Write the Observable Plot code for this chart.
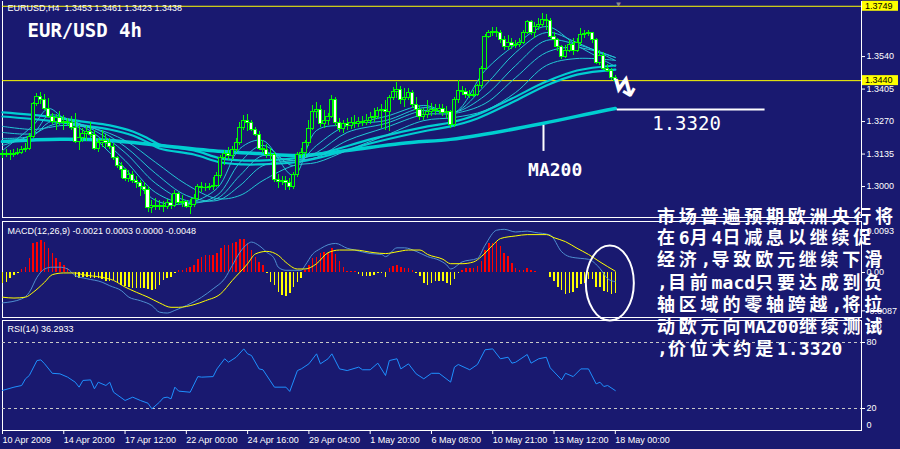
<!DOCTYPE html>
<html><head><meta charset="utf-8">
<script src="https://cdn.jsdelivr.net/npm/d3@7"></script>
<script src="https://cdn.jsdelivr.net/npm/@observablehq/plot@0.6"></script>
<style>
html,body{margin:0;padding:0;background:#191970;overflow:hidden}
#wrap{position:relative;width:900px;height:449px;background:#191970;overflow:hidden}
.panel{position:absolute;left:0}
.panel svg{display:block;overflow:visible}
#note{position:absolute;left:657px;top:205px;color:#fff;font-family:"Noto Sans CJK SC";font-weight:bold;font-size:18px;line-height:21.2px;letter-spacing:3.8px;white-space:nowrap;z-index:5}
#note .l{font-family:"DejaVu Sans Mono";letter-spacing:0.1px}
</style></head>
<body><div id="wrap">
<div class="panel" id="p1" style="top:0"></div>
<div class="panel" id="p2" style="top:220px"></div>
<div class="panel" id="p3" style="top:319px"></div>
<div id="note">市场普遍预期欧洲央行将<br>在<span class="l">6</span>月<span class="l">4</span>日减息以继续促<br>经济<span class="l">,</span>导致欧元继续下滑<br><span class="l">,</span>目前<span class="l">macd</span>只要达成到负<br>轴区域的零轴跨越<span class="l">,</span>将拉<br>动欧元向<span class="l">MA200</span>继续测试<br><span class="l">,</span>价位大约是<span class="l">1.3320</span></div>
</div>
<script>
// ---------- DATA ----------
const timeLabels = ["10 Apr 2009","14 Apr 20:00","17 Apr 12:00","22 Apr 00:00","24 Apr 16:00","29 Apr 04:00","1 May 20:00","6 May 08:00","10 May 21:00","13 May 12:00","18 May 00:00"];
const timeTickIdx = [0,16,32,48,64,80,96,112,128,144,160];

const open = [1.3137,1.3129,1.3137,1.3129,1.3137,1.3141,1.3150,1.3154,1.3204,1.3345,
1.3370,1.3358,1.3324,1.3291,1.3270,1.3283,1.3266,1.3270,1.3262,1.3245,
1.3187,1.3200,1.3220,1.3225,1.3216,1.3158,1.3179,1.3191,1.3179,1.3166,
1.3117,1.3087,1.3067,1.3033,1.3046,1.3025,1.3013,1.3000,1.2984,1.2909,
1.2921,1.2913,1.2921,1.2913,1.2930,1.2921,1.2967,1.2930,1.2934,1.2917,
1.2925,1.2950,1.3000,1.2992,1.2996,1.3000,1.3004,1.3042,1.3117,1.3137,
1.3125,1.3150,1.3179,1.3245,1.3274,1.3266,1.3237,1.3216,1.3158,1.3150,
1.3133,1.3129,1.3029,1.3017,1.3025,1.3013,1.3000,1.3046,1.3129,1.3141,
1.3179,1.3241,1.3308,1.3316,1.3258,1.3274,1.3287,1.3358,1.3262,1.3241,
1.3258,1.3250,1.3266,1.3258,1.3270,1.3266,1.3274,1.3283,1.3287,1.3312,
1.3316,1.3308,1.3366,1.3391,1.3403,1.3358,1.3366,1.3387,1.3337,1.3316,
1.3287,1.3299,1.3308,1.3316,1.3312,1.3324,1.3304,1.3308,1.3254,1.3358,
1.3399,1.3391,1.3382,1.3378,1.3382,1.3416,1.3490,1.3623,1.3636,1.3644,
1.3636,1.3607,1.3578,1.3598,1.3582,1.3590,1.3598,1.3640,1.3682,1.3640,
1.3661,1.3673,1.3694,1.3686,1.3623,1.3607,1.3578,1.3540,1.3565,1.3590,
1.3565,1.3598,1.3628,1.3632,1.3636,1.3607,1.3515,1.3544,1.3490,1.3482,
1.3453];
const high = [1.3150,1.3154,1.3150,1.3154,1.3158,1.3166,1.3179,1.3220,1.3349,1.3387,
1.3391,1.3382,1.3366,1.3304,1.3299,1.3312,1.3295,1.3283,1.3291,1.3304,
1.3254,1.3241,1.3250,1.3266,1.3233,1.3200,1.3233,1.3216,1.3200,1.3179,
1.3125,1.3100,1.3075,1.3067,1.3063,1.3042,1.3025,1.3017,1.3000,1.2942,
1.2950,1.2942,1.2938,1.2946,1.2963,1.2984,1.2975,1.2963,1.2942,1.2946,
1.2967,1.3009,1.3017,1.3013,1.3013,1.3038,1.3058,1.3129,1.3150,1.3162,
1.3166,1.3200,1.3266,1.3295,1.3299,1.3274,1.3245,1.3229,1.3191,1.3175,
1.3158,1.3141,1.3050,1.3042,1.3042,1.3033,1.3058,1.3141,1.3158,1.3191,
1.3274,1.3337,1.3349,1.3337,1.3316,1.3304,1.3378,1.3370,1.3283,1.3274,
1.3283,1.3287,1.3295,1.3287,1.3291,1.3299,1.3308,1.3324,1.3328,1.3341,
1.3358,1.3378,1.3412,1.3432,1.3416,1.3407,1.3407,1.3399,1.3370,1.3337,
1.3324,1.3358,1.3345,1.3341,1.3341,1.3341,1.3333,1.3316,1.3370,1.3441,
1.3416,1.3407,1.3399,1.3399,1.3424,1.3499,1.3632,1.3648,1.3661,1.3661,
1.3648,1.3623,1.3628,1.3615,1.3607,1.3615,1.3648,1.3690,1.3690,1.3682,
1.3698,1.3719,1.3715,1.3698,1.3640,1.3615,1.3586,1.3586,1.3607,1.3615,
1.3615,1.3657,1.3648,1.3648,1.3640,1.3615,1.3565,1.3557,1.3507,1.3490,
1.3461];
const low = [1.3117,1.3121,1.3108,1.3121,1.3129,1.3133,1.3141,1.3150,1.3200,1.3333,
1.3341,1.3316,1.3283,1.3258,1.3233,1.3254,1.3233,1.3250,1.3233,1.3179,
1.3150,1.3183,1.3187,1.3200,1.3150,1.3141,1.3162,1.3158,1.3154,1.3108,
1.3075,1.3033,1.3021,1.3017,1.3013,1.2992,1.2959,1.2967,1.2892,1.2888,
1.2900,1.2900,1.2892,1.2905,1.2905,1.2913,1.2921,1.2913,1.2909,1.2884,
1.2913,1.2942,1.2975,1.2979,1.2984,1.2984,1.2996,1.3033,1.3087,1.3108,
1.3108,1.3141,1.3171,1.3233,1.3229,1.3229,1.3208,1.3150,1.3137,1.3117,
1.3108,1.3017,1.2992,1.3004,1.2984,1.2984,1.2988,1.3038,1.3117,1.3121,
1.3166,1.3233,1.3283,1.3245,1.3241,1.3254,1.3283,1.3250,1.3225,1.3220,
1.3233,1.3237,1.3241,1.3245,1.3250,1.3254,1.3258,1.3266,1.3279,1.3241,
1.3233,1.3229,1.3358,1.3366,1.3341,1.3328,1.3358,1.3324,1.3291,1.3274,
1.3274,1.3283,1.3291,1.3295,1.3299,1.3291,1.3283,1.3241,1.3245,1.3345,
1.3378,1.3366,1.3366,1.3370,1.3374,1.3407,1.3482,1.3615,1.3623,1.3619,
1.3594,1.3565,1.3565,1.3569,1.3574,1.3578,1.3590,1.3632,1.3628,1.3615,
1.3648,1.3661,1.3648,1.3615,1.3578,1.3561,1.3528,1.3532,1.3557,1.3544,
1.3557,1.3586,1.3615,1.3623,1.3594,1.3507,1.3503,1.3482,1.3474,1.3441,
1.3423];
const close = [1.3129,1.3137,1.3129,1.3137,1.3141,1.3150,1.3154,1.3204,1.3345,1.3370,
1.3358,1.3324,1.3291,1.3270,1.3283,1.3266,1.3270,1.3262,1.3245,1.3187,
1.3200,1.3220,1.3225,1.3216,1.3158,1.3179,1.3191,1.3179,1.3166,1.3117,
1.3087,1.3067,1.3033,1.3046,1.3025,1.3013,1.3000,1.2984,1.2909,1.2921,
1.2913,1.2921,1.2913,1.2930,1.2921,1.2967,1.2930,1.2934,1.2917,1.2925,
1.2950,1.3000,1.2992,1.2996,1.3000,1.3004,1.3042,1.3117,1.3137,1.3125,
1.3150,1.3179,1.3245,1.3274,1.3266,1.3237,1.3216,1.3158,1.3150,1.3133,
1.3129,1.3029,1.3017,1.3025,1.3013,1.3000,1.3046,1.3129,1.3141,1.3179,
1.3241,1.3308,1.3316,1.3258,1.3274,1.3287,1.3358,1.3262,1.3241,1.3258,
1.3250,1.3266,1.3258,1.3270,1.3266,1.3274,1.3283,1.3287,1.3312,1.3316,
1.3308,1.3366,1.3391,1.3403,1.3358,1.3366,1.3387,1.3337,1.3316,1.3287,
1.3299,1.3308,1.3316,1.3312,1.3324,1.3304,1.3308,1.3254,1.3358,1.3399,
1.3391,1.3382,1.3378,1.3382,1.3416,1.3490,1.3623,1.3636,1.3644,1.3636,
1.3607,1.3578,1.3598,1.3582,1.3590,1.3598,1.3640,1.3682,1.3640,1.3661,
1.3673,1.3694,1.3686,1.3623,1.3607,1.3578,1.3540,1.3565,1.3590,1.3565,
1.3598,1.3628,1.3632,1.3636,1.3607,1.3515,1.3544,1.3490,1.3482,1.3453,
1.3438];

// moving averages (sampled at bar indices)
const ribbonIdx = [0,8,12,16,24,32,40,48,56,62,68,76,82,90,100,110,118,126,134,142,150,160];
const ma_r1 = [1.3150,1.3254,1.3324,1.3283,1.3200,1.3075,1.2942,1.2930,1.2992,1.3158,1.3191,1.3046,1.3233,1.3258,1.3291,1.3337,1.3308,1.3482,1.3590,1.3665,1.3586,1.3499];
const ma_r2 = [1.3171,1.3220,1.3295,1.3287,1.3220,1.3108,1.2975,1.2930,1.2963,1.3100,1.3171,1.3087,1.3171,1.3254,1.3274,1.3328,1.3308,1.3420,1.3557,1.3640,1.3598,1.3524];
const ma_r3 = [1.3200,1.3212,1.3266,1.3279,1.3233,1.3141,1.3013,1.2942,1.2950,1.3046,1.3129,1.3108,1.3141,1.3225,1.3262,1.3316,1.3308,1.3378,1.3503,1.3607,1.3590,1.3536];
const ma_r4 = [1.3225,1.3220,1.3250,1.3266,1.3241,1.3166,1.3054,1.2963,1.2942,1.3004,1.3087,1.3108,1.3121,1.3191,1.3245,1.3299,1.3304,1.3345,1.3453,1.3557,1.3578,1.3536];
const ma_r5 = [1.3250,1.3237,1.3245,1.3254,1.3241,1.3191,1.3100,1.3009,1.2950,1.2963,1.3025,1.3087,1.3100,1.3150,1.3212,1.3274,1.3287,1.3316,1.3391,1.3503,1.3532,1.3524];
const bundleIdx = [0,12,21,28,34,38,41,50,57,63,67,76,83,97,111,117,124,133,142,150,160];
const ma_bundleA = [1.3308,1.3291,1.3270,1.3254,1.3229,1.3200,1.3175,1.3150,1.3117,1.3108,1.3108,1.3117,1.3137,1.3200,1.3250,1.3266,1.3299,1.3366,1.3436,1.3482,1.3503];
const ma_bundleB = [1.3291,1.3274,1.3254,1.3237,1.3212,1.3183,1.3158,1.3133,1.3100,1.3092,1.3092,1.3100,1.3121,1.3183,1.3233,1.3250,1.3283,1.3349,1.3420,1.3465,1.3486];
const ma200Idx = [0,15,28,41,54,67,78,90,104,117,124,141,156,160];
const ma200 = [1.3187,1.3196,1.3191,1.3171,1.3150,1.3137,1.3129,1.3150,1.3179,1.3196,1.3212,1.3262,1.3312,1.3324];

// MACD
const histo = [-0.0026,-0.0022,-0.0014,-0.0007,-0.0003,0.0006,0.0012,0.0031,0.0065,0.0069,
0.0073,0.0069,0.0054,0.0042,0.0031,0.0023,0.0016,0.0008,-0.0001,-0.0011,
-0.0014,-0.0011,-0.0011,-0.0013,-0.0014,-0.0014,-0.0016,-0.0020,-0.0020,-0.0018,
-0.0026,-0.0030,-0.0032,-0.0033,-0.0037,-0.0037,-0.0037,-0.0037,-0.0039,-0.0041,
-0.0039,-0.0030,-0.0018,-0.0014,-0.0011,-0.0003,0.0005,0.0005,0.0008,0.0012,
0.0017,0.0030,0.0035,0.0039,0.0039,0.0039,0.0042,0.0054,0.0061,0.0061,
0.0065,0.0069,0.0076,0.0076,0.0065,0.0050,0.0035,0.0023,0.0017,-0.0003,
-0.0022,-0.0030,-0.0045,-0.0052,-0.0055,-0.0048,-0.0033,-0.0022,-0.0013,0.0005,
0.0016,0.0031,0.0035,0.0042,0.0046,0.0042,0.0055,0.0041,0.0024,0.0011,
0.0003,0.0002,0.0002,-0.0005,-0.0008,-0.0010,-0.0010,-0.0006,-0.0002,-0.0003,
-0.0012,0.0008,0.0013,0.0017,0.0011,0.0008,0.0009,0.0005,-0.0002,-0.0010,
-0.0025,-0.0029,-0.0025,-0.0021,-0.0021,-0.0021,-0.0025,-0.0029,-0.0017,-0.0002,
0.0005,0.0009,0.0009,0.0009,0.0013,0.0024,0.0051,0.0066,0.0066,0.0070,
0.0058,0.0043,0.0036,0.0020,0.0009,0.0005,0.0005,0.0009,0.0005,0.0002,
0,0,0,-0.0012,-0.0021,-0.0033,-0.0040,-0.0050,-0.0048,-0.0045,
-0.0036,-0.0027,-0.0025,-0.0017,-0.0017,-0.0033,-0.0033,-0.0044,-0.0045,-0.0050,
-0.0048];
const macdIdx = [0,5,7,9,11,13,15,17,19,22,26,28,31,33,36,39,41,43,45,48,52,55,58,60,62,64,65,67,69,71,72,74,78,79,81,83,85,87,90,92,96,99,100,103,105,108,111,114,116,117,120,124,126,129,131,134,137,139,143,146,148,151,153,156,158,160];
const macdVal = [-0.0069,-0.0060,-0.0045,-0.0011,0.0008,0.0012,0.0012,0.0008,-0.0007,-0.0014,-0.0022,-0.0030,-0.0041,-0.0056,-0.0064,-0.0075,-0.0090,-0.0092,-0.0086,-0.0075,-0.0056,-0.0037,-0.0014,0.0016,0.0046,0.0065,0.0069,0.0061,0.0046,0.0031,0.0012,0.0005,0.0005,0.0016,0.0042,0.0054,0.0063,0.0066,0.0055,0.0051,0.0043,0.0041,0.0036,0.0056,0.0056,0.0048,0.0036,0.0028,0.0017,0.0008,0.0024,0.0032,0.0062,0.0096,0.0098,0.0092,0.0094,0.0091,0.0085,0.0047,0.0036,0.0032,0.0030,0.0009,-0.0014,-0.0021];
const signalIdx = [0,3,6,8,11,13,16,19,21,26,29,32,35,38,41,44,46,50,53,57,60,64,66,69,72,74,77,79,82,85,88,92,97,100,103,106,109,111,115,117,120,123,125,128,130,134,137,142,144,147,150,153,156,160];
const signalVal = [-0.0056,-0.0058,-0.0056,-0.0045,-0.0022,-0.0005,-0.0001,-0.0001,-0.0005,-0.0011,-0.0018,-0.0033,-0.0045,-0.0056,-0.0069,-0.0079,-0.0079,-0.0073,-0.0064,-0.0048,-0.0018,0.0020,0.0042,0.0048,0.0039,0.0023,0.0008,0.0008,0.0020,0.0045,0.0051,0.0051,0.0045,0.0043,0.0047,0.0051,0.0051,0.0041,0.0030,0.0020,0.0020,0.0024,0.0036,0.0062,0.0077,0.0083,0.0086,0.0086,0.0079,0.0070,0.0055,0.0041,0.0024,0.0003];

// RSI
const rsiIdx = [0,3,5,6,7,9,10,11,13,15,17,19,20,21,23,24,25,27,28,29,32,34,36,38,39,41,42,43,44,45,46,49,51,52,55,56,58,59,61,63,64,65,67,68,71,74,75,77,78,80,82,83,85,86,88,90,93,94,96,98,100,101,103,104,106,108,110,112,114,117,118,119,122,124,126,128,130,132,133,134,137,138,140,142,143,146,147,149,151,153,155,156,157,158,160];
const rsiVal = [36.4,39.4,40.9,47,50,63.6,64.2,60.6,52,51.5,48.5,43.9,39.4,45.5,46,37.9,43.9,40.9,43.9,34.8,27.3,30.3,27.3,24.8,19.7,25.8,29.7,30.3,28.8,39.4,35.8,34.8,49,48.5,49,56,65.2,62.1,66.6,74.2,69.7,68.2,56,55.2,39.4,39.4,35.5,54.5,56,60.6,69.7,60.6,65.2,69.7,56,54.5,57.6,55.2,55.2,61.2,50,63.6,65.2,56,60.6,51.5,47,52,52,44,57.6,60,55.2,60,73.4,74.2,65.2,66.6,61.2,62.1,69.1,61.2,65.2,66.6,57,46,52,49,56,56,42.4,43.9,40,40.9,36.3];

// scales / labels
const priceTicks = [1.3540,1.3405,1.3270,1.3135,1.3000];
const priceLevels = [1.3749,1.3440];
const macdTicks = [0.0093,0,-0.0087];
const rsiLevels = [80,20];
const target = 1.3320;
const priceHeader = "EURUSD,H4  1.3453 1.3461 1.3423 1.3438";
const macdHeader = "MACD(12,26,9) -0.0021 0.0003 0.0000 -0.0048";
const rsiHeader = "RSI(14) 36.2933";
const chartTitle = "EUR/USD 4h";

// annotation anchors (bar index / price)
const targetSpan = [160.5, 199.1], targetLabelIdx = 178.6;
const ma200Note = {i: 141.25, top: 1.3254, bottom: 1.3146, labelIdx: 144.3, labelY: 1.3069};
const arrowNote = {i: 162.6, y: 1.3408};
const ovalNote = {i: 158.7, v: -0.0025};

// ---------- BUILD ----------
const NAVY = "#191970", CYAN = "#00ced1", CYAN2 = "#22c8d4", GREEN = "#00ff00";
const XDOM = [0, 224.28];
const bars = close.map((c, i) => ({i, o: open[i], h: high[i], l: low[i], c}));
const ser = (idx, vals) => idx.map((i, k) => ({i, v: vals[k]}));
const base = {background: "transparent", color: "#fff", fontFamily: "Liberation Sans", fontSize: "9px", overflow: "visible"};
const labelMap = new Map(timeTickIdx.map((t, k) => [t, timeLabels[k]]));

const maLine = (idx, vals, w, col) => Plot.line(ser(idx, vals), {x: "i", y: "v", stroke: col, strokeWidth: w, curve: "catmull-rom"});

const p1 = Plot.plot({
  width: 900, height: 218, marginTop: 1, marginBottom: 1, marginLeft: 2, marginRight: 39,
  x: {domain: XDOM, axis: null}, y: {domain: [1.28714, 1.37688], axis: null},
  style: base,
  marks: [
    Plot.frame({anchor: "left", stroke: "#fff"}),
    Plot.frame({anchor: "right", stroke: "#fff"}),
    Plot.frame({anchor: "bottom", stroke: "#fff"}),
    Plot.ruleY(priceLevels, {stroke: "#ffff00"}),
    maLine(ma200Idx, ma200, 3.5, CYAN),
    maLine(bundleIdx, ma_bundleA, 2.2, CYAN),
    maLine(bundleIdx, ma_bundleB, 2.2, CYAN),
    maLine(ribbonIdx, ma_r5, 1, CYAN2),
    maLine(ribbonIdx, ma_r4, 1, CYAN2),
    maLine(ribbonIdx, ma_r3, 1, CYAN2),
    maLine(ribbonIdx, ma_r2, 1, CYAN2),
    maLine(ribbonIdx, ma_r1, 1, CYAN2),
    Plot.ruleX(bars, {x: "i", y1: "l", y2: "h", stroke: GREEN, shapeRendering: "crispEdges"}),
    Plot.rect(bars, {x1: d => d.i - 0.42, x2: d => d.i + 0.42, y1: "o", y2: "c",
      fill: d => d.c < d.o ? "#ffffff" : NAVY, stroke: GREEN, shapeRendering: "crispEdges"}),
    Plot.ruleY([target], {x1: targetSpan[0], x2: targetSpan[1], stroke: "#fff", strokeWidth: 2}),
    Plot.text([target], {x: targetLabelIdx, y: target, dy: 14, text: d => d.toFixed(4), fill: "#fff",
      fontFamily: "DejaVu Sans Mono", fontSize: 19}),
    Plot.ruleX([ma200Note], {x: "i", y1: "top", y2: "bottom", stroke: "#fff", strokeWidth: 2}),
    Plot.text([ma200Note], {x: "labelIdx", y: "labelY", text: () => "MA200", fill: "#fff",
      fontFamily: "DejaVu Sans Mono", fontWeight: "bold", fontSize: 18}),
    Plot.text([arrowNote], {x: "i", y: "y", text: () => "↯", fill: "#fff", fontFamily: "DejaVu Sans",
      fontSize: 30, fontWeight: "bold", rotate: -25}),
    Plot.text([priceHeader], {frameAnchor: "top-left", dx: 5, dy: 3, fill: "#fff", fontSize: 9}),
    Plot.text([chartTitle], {frameAnchor: "top-left", dx: 25, dy: 29, lineAnchor: "middle", fill: "#fff",
      fontFamily: "DejaVu Sans Mono", fontWeight: "bold", fontSize: 19}),
    Plot.text(["▼"], {x: 160.8, frameAnchor: "top", dy: 0, fill: "#8c8c8c", fontSize: 8}),
    Plot.axisY(priceTicks, {anchor: "right", label: null, tickSize: 3, tickPadding: 2, tickFormat: d => d.toFixed(4), fontSize: 9, color: "#fff"})
  ]
});
{
  const sy = p1.scale("y");
  const g = d3.select(p1).append("g").attr("text-anchor", "start");
  priceLevels.forEach(v => {
    const y = sy.apply(v);
    g.append("rect").attr("x", 862).attr("y", y - 5).attr("width", 36).attr("height", 10).attr("fill", "#ffff00");
    g.append("text").attr("x", 865).attr("y", y + 3.3).attr("fill", "#000").attr("font-family", "Liberation Sans")
      .attr("font-size", 9).attr("text-anchor", "start").text(v.toFixed(4));
  });
}
document.getElementById("p1").append(p1);

const p2 = Plot.plot({
  width: 900, height: 98, marginTop: 1, marginBottom: 1, marginLeft: 2, marginRight: 39,
  x: {domain: XDOM, axis: null}, y: {domain: [-0.010215, 0.011577], axis: null},
  style: base,
  marks: [
    Plot.frame({stroke: "#fff"}),
    Plot.ruleX(histo.map((v, i) => ({i, v})), {x: "i", y1: 0, y2: "v", stroke: d => d.v >= 0 ? "#ff0000" : "#ffff00",
      strokeWidth: 1.5, shapeRendering: "crispEdges"}),
    Plot.line(ser(macdIdx, macdVal), {x: "i", y: "v", stroke: "#4f8fd0", strokeWidth: 1, curve: "monotone-x"}),
    Plot.line(ser(signalIdx, signalVal), {x: "i", y: "v", stroke: "#ffff00", strokeWidth: 1, curve: "monotone-x"}),
    Plot.text([macdHeader], {frameAnchor: "top-left", dx: 5, dy: 6, fill: "#fff", fontSize: 9}),
    Plot.axisY(macdTicks, {anchor: "right", label: null, tickSize: 3, tickPadding: 2, tickFormat: d => d === 0 ? "0.00" : d.toFixed(4), fontSize: 9, color: "#fff"})
  ]
});
{
  const sx = p2.scale("x"), sy = p2.scale("y");
  d3.select(p2).append("ellipse").attr("cx", sx.apply(ovalNote.i)).attr("cy", sy.apply(ovalNote.v))
    .attr("rx", 24).attr("ry", 37.5).attr("fill", "none").attr("stroke", "#fff").attr("stroke-width", 2);
}
document.getElementById("p2").append(p2);

const p3 = Plot.plot({
  width: 900, height: 130, marginTop: 1, marginBottom: 19, marginLeft: 2, marginRight: 39,
  x: {domain: XDOM, axis: null}, y: {domain: [0, 100], axis: null},
  style: base,
  marks: [
    Plot.frame({stroke: "#fff"}),
    Plot.ruleY(rsiLevels, {stroke: "#c8c8c8", strokeDasharray: "3,3"}),
    Plot.line(ser(rsiIdx, rsiVal), {x: "i", y: "v", stroke: "#1e90ff", strokeWidth: 1}),
    Plot.text([rsiHeader], {frameAnchor: "top-left", dx: 5, dy: 5, fill: "#fff", fontSize: 9}),
    Plot.axisY(rsiLevels, {anchor: "right", label: null, tickSize: 3, tickPadding: 2, fontSize: 9, color: "#fff"}),
    Plot.axisY([100], {anchor: "right", label: null, tickSize: 0, tickPadding: 5, dy: 6, fontSize: 9, color: "#fff"}),
    Plot.axisY([0], {anchor: "right", label: null, tickSize: 0, tickPadding: 5, dy: -5, fontSize: 9, color: "#fff"}),
    Plot.axisX(timeTickIdx, {anchor: "bottom", label: null, tickSize: 4, tickPadding: 2, textAnchor: "start", tickFormat: d => labelMap.get(d),
      fontSize: 9, color: "#fff"})
  ]
});
document.getElementById("p3").append(p3);
</script>
</body></html>
